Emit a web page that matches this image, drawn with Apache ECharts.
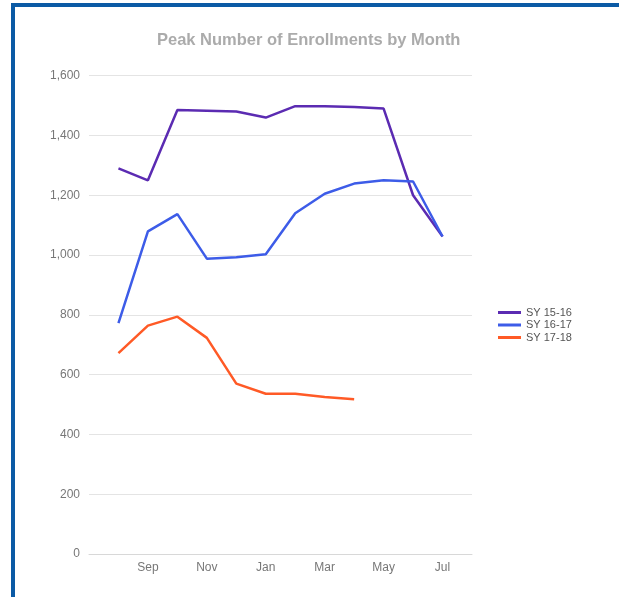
<!DOCTYPE html>
<html>
<head>
<meta charset="utf-8">
<script src="https://cdn.jsdelivr.net/npm/echarts@6/dist/echarts.min.js"></script>
<style>
  html, body { margin: 0; padding: 0; background: #fff; }
  #frame { position: absolute; left: 11px; top: 3px; width: 700px; height: 700px;
           border-left: 4px solid #0b5aa5; border-top: 4px solid #0b5aa5; box-sizing: border-box; }
  #chart { position: absolute; left: 0; top: 0; width: 619px; height: 597px; }
</style>
</head>
<body>
<div id="frame"></div>
<div id="chart"></div>
<script>
// Categories: padded month slots at both ends (axis spans Jul..Aug around the school year)
const months = ['', 'Aug', 'Sep', 'Oct', 'Nov', 'Dec', 'Jan', 'Feb', 'Mar', 'Apr', 'May', 'Jun', 'Jul', ''];
const seriesNames = ['SY 15-16', 'SY 16-17', 'SY 17-18'];
const sy1516 = [null, 1290, 1250, 1485, 1483, 1480, 1460, 1498, 1498, 1495, 1490, 1200, 1062, null];
const sy1617 = [null, 772, 1079, 1137, 988, 993, 1003, 1140, 1205, 1239, 1250, 1246, 1062, null];
const sy1718 = [null, 672, 764, 794, 723, 570, 536, 536, 525, 518, null, null, null, null];
const yTicks = { min: 0, max: 1600, interval: 200 };
const title = 'Peak Number of Enrollments by Month';

const colors = ['#5b2bb2', '#3d5ce8', '#ff5a26'];
const chart = echarts.init(document.getElementById('chart'), null, { renderer: 'canvas' });
const fmt = v => v.toLocaleString('en-US');

chart.setOption({
  backgroundColor: 'transparent',
  animation: false,
  color: colors,
  title: {
    text: title,
    left: 152, top: 27,
    textStyle: { fontFamily: 'Liberation Sans, Arial', fontSize: 16.5, fontWeight: 'bold', color: '#ababab' }
  },
  legend: {
    orient: 'vertical',
    left: 493, top: 301.5,
    icon: 'rect',
    itemWidth: 23, itemHeight: 3,
    itemGap: 0.5,
    data: seriesNames,
    textStyle: { fontFamily: 'Liberation Sans, Arial', fontSize: 11, color: '#555', lineHeight: 12 }
  },
  grid: { left: 89, right: 147, top: 75.7, bottom: 43, containLabel: false },
  xAxis: {
    type: 'category',
    data: months,
    boundaryGap: false,
    axisLine: { show: true, lineStyle: { color: '#d8d8d8' } },
    axisTick: { show: false },
    splitLine: { show: false },
    axisLabel: {
      interval: (i) => i % 2 === 0 && i > 0 && i < months.length - 1,
      margin: 8,
      fontFamily: 'Liberation Sans, Arial', fontSize: 12, color: '#777'
    }
  },
  yAxis: {
    type: 'value',
    min: yTicks.min, max: yTicks.max, interval: yTicks.interval,
    axisLine: { show: false },
    axisTick: { show: false },
    splitLine: { lineStyle: { color: '#e4e4e4' } },
    axisLabel: {
      formatter: fmt, margin: 9,
      fontFamily: 'Liberation Sans, Arial', fontSize: 12, color: '#777'
    }
  },
  series: [sy1516, sy1617, sy1718].map((d, i) => ({
    name: seriesNames[i],
    type: 'line',
    data: d,
    symbol: 'none',
    connectNulls: false,
    lineStyle: { width: 2.5, color: colors[i] },
    itemStyle: { color: colors[i] }
  }))
});
</script>
</body>
</html>
